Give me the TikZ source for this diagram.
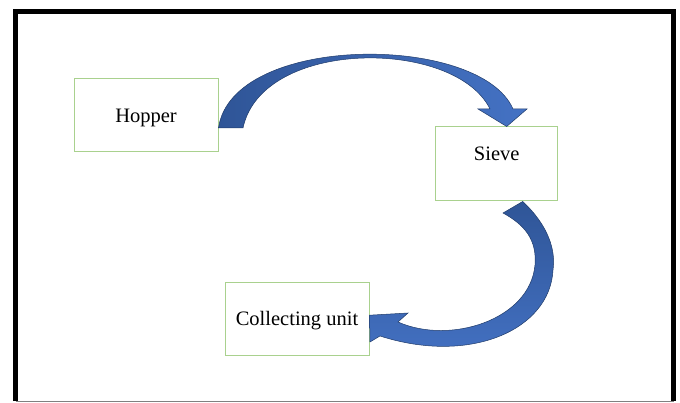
\documentclass[tikz,border=0pt]{standalone}
\usepackage{fontspec}
\setmainfont{Liberation Serif}
\definecolor{boxgreen}{RGB}{169,209,142}
\definecolor{arrowdark}{RGB}{47,85,151}
\definecolor{arrowlight}{RGB}{68,114,196}
\tikzstyle{stage}=[draw=boxgreen, line width=1pt, minimum width=144pt, minimum height=73pt, inner sep=0pt, text depth=0pt, font=\fontsize{20.5}{24}\selectfont]
\tikzstyle{flow}=[draw=arrowdark!70!black, line width=0.5pt]

\begin{document}
\begin{tikzpicture}[x=1pt, y=-1pt]
\useasboundingbox (0,0) rectangle (680,403);
% Frame
    \draw[line width=5pt] (15.5,401) -- (15.5,12) -- (673.5,12) -- (673.5,401);
    \draw[gray, line width=1.5pt] (15.5,401.5) -- (673.5,401.5);
% Boxes
    \node[stage] (hopper) at (146,115.5) {Hopper};
    \node[stage, minimum width=122pt, minimum height=74pt, text depth=20pt] (sieve) at (496.7,164) {Sieve};
    \node[stage] (collect) at (297,318.7) {Collecting unit};
% Arrows
    \draw[flow, left color=arrowdark, right color=arrowlight]
        ([yshift=-12.5pt]hopper.east) .. controls (232,33) and (480,33) .. (513,109)
        -- (527,109) -- ([xshift=10pt]sieve.north) -- (478,109) -- (490,109)
        .. controls (455,38) and (262,38) .. (243,128) -- cycle;
    \draw[flow, top color=arrowdark, bottom color=arrowlight]
        ([xshift=26pt]sieve.south) .. controls (548,225) and (556,250) .. (553,270)
        .. controls (550,330) and (470,365) .. (380,336)
        -- (370,342) -- ([yshift=3.5pt]collect.east) -- (408,313) -- (398,322)
        .. controls (450,345) and (530,320) .. (535,265)
        .. controls (537,240) and (525,225) .. (503,213) -- cycle;
\end{tikzpicture}
\end{document}
